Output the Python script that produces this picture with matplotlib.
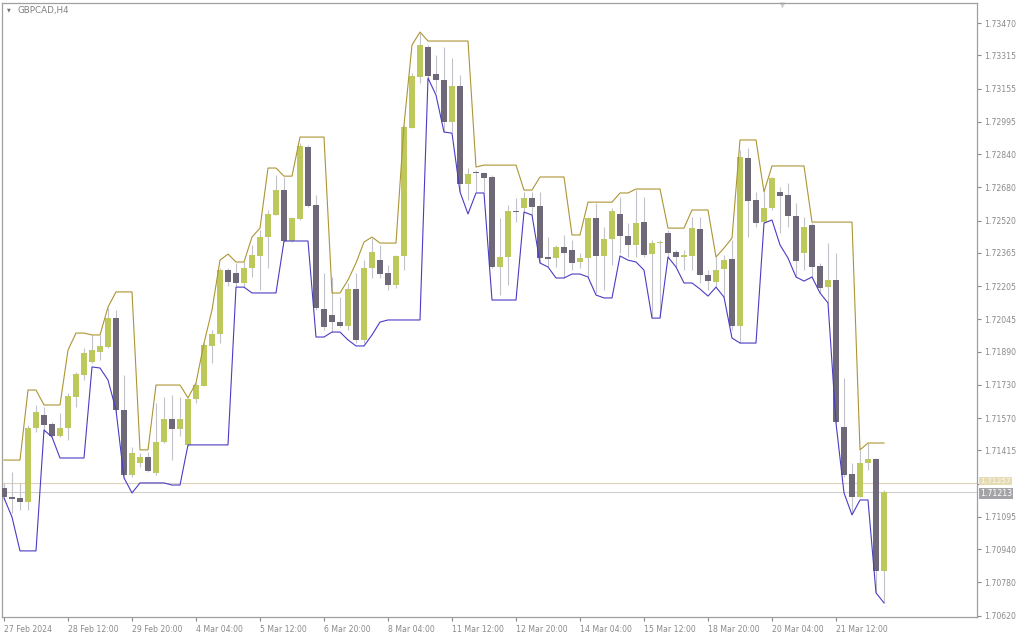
import numpy as np
import matplotlib
matplotlib.use('Agg')
from matplotlib import pyplot as plt
from matplotlib import transforms

# GBPCAD H4 candles
open_ = [1.71234, 1.71190, 1.71186, 1.71166, 1.71522, 1.71585, 1.71542, 1.71484, 1.71522, 1.71671,
         1.71777, 1.71840, 1.71888, 1.71912, 1.72051, 1.71609, 1.71296, 1.71354, 1.71383, 1.71306,
         1.71455, 1.71566, 1.71518, 1.71441, 1.71662, 1.71724, 1.71917, 1.71974, 1.72282, 1.72268,
         1.72220, 1.72292, 1.72350, 1.72441, 1.72547, 1.72667, 1.72422, 1.72528, 1.72874, 1.72595,
         1.72095, 1.72066, 1.72032, 1.72013, 1.72191, 1.71946, 1.72292, 1.72330, 1.72268, 1.72210,
         1.72350, 1.72965, 1.73211, 1.73355, 1.73225, 1.73196, 1.72994, 1.73167, 1.72696, 1.72754,
         1.72749, 1.72730, 1.72297, 1.72345, 1.72566, 1.72581, 1.72629, 1.72590, 1.72345, 1.72340,
         1.72393, 1.72379, 1.72321, 1.72340, 1.72532, 1.72350, 1.72431, 1.72552, 1.72446, 1.72403,
         1.72513, 1.72359, 1.72412, 1.72460, 1.72369, 1.72345, 1.72350, 1.72480, 1.72258, 1.72225,
         1.72287, 1.72335, 1.72013, 1.72821, 1.72619, 1.72513, 1.72581, 1.72658, 1.72643, 1.72542,
         1.72364, 1.72499, 1.72302, 1.72200, 1.72234, 1.71527, 1.71301, 1.71190, 1.71354, 1.71373,
         1.70835]
high = [1.71258, 1.71311, 1.71258, 1.71537, 1.71633, 1.71623, 1.71551, 1.71595, 1.71691, 1.71792,
        1.71907, 1.71970, 1.71970, 1.72100, 1.72090, 1.71777, 1.71431, 1.71402, 1.71407, 1.71643,
        1.71671, 1.71681, 1.71671, 1.71667, 1.71739, 1.71931, 1.71994, 1.72292, 1.72292, 1.72316,
        1.72321, 1.72403, 1.72475, 1.72571, 1.72739, 1.72730, 1.72537, 1.72893, 1.72884, 1.72643,
        1.72268, 1.72249, 1.72152, 1.72220, 1.72268, 1.72330, 1.72436, 1.72403, 1.72306, 1.72354,
        1.72980, 1.73230, 1.73422, 1.73365, 1.73316, 1.73355, 1.73302, 1.73220, 1.72773, 1.72763,
        1.72754, 1.72739, 1.72532, 1.72595, 1.72629, 1.72658, 1.72658, 1.72658, 1.72441, 1.72403,
        1.72451, 1.72427, 1.72364, 1.72537, 1.72605, 1.72489, 1.72581, 1.72633, 1.72508, 1.72667,
        1.72633, 1.72427, 1.72427, 1.72475, 1.72379, 1.72379, 1.72537, 1.72537, 1.72282, 1.72345,
        1.72354, 1.72427, 1.72860, 1.72869, 1.72658, 1.72658, 1.72730, 1.72681, 1.72701, 1.72605,
        1.72537, 1.72508, 1.72316, 1.72412, 1.72364, 1.71763, 1.71354, 1.71417, 1.71450, 1.71378,
        1.71224]
low = [1.71176, 1.71113, 1.71128, 1.71128, 1.71503, 1.71498, 1.71474, 1.71479, 1.71465, 1.71623,
       1.71753, 1.71835, 1.71849, 1.71907, 1.71595, 1.71287, 1.71287, 1.71335, 1.71311, 1.71296,
       1.71450, 1.71368, 1.71484, 1.71436, 1.71643, 1.71724, 1.71835, 1.71931, 1.72205, 1.72200,
       1.72200, 1.72249, 1.72186, 1.72292, 1.72547, 1.72417, 1.72417, 1.72523, 1.72585, 1.72090,
       1.71994, 1.71984, 1.72008, 1.71994, 1.71931, 1.71931, 1.72244, 1.72244, 1.72186, 1.72196,
       1.72282, 1.72965, 1.73182, 1.73206, 1.73139, 1.72946, 1.72946, 1.72658, 1.72619, 1.72658,
       1.72658, 1.72292, 1.72162, 1.72210, 1.72513, 1.72561, 1.72547, 1.72316, 1.72297, 1.72297,
       1.72244, 1.72282, 1.72292, 1.72249, 1.72172, 1.72186, 1.72306, 1.72364, 1.72345, 1.72345,
       1.72345, 1.72056, 1.72056, 1.72345, 1.72297, 1.72282, 1.72282, 1.72220, 1.72186, 1.72200,
       1.72152, 1.71994, 1.71931, 1.72441, 1.72489, 1.72508, 1.72571, 1.72460, 1.72489, 1.72249,
       1.72282, 1.72249, 1.72172, 1.72124, 1.71546, 1.71287, 1.71113, 1.71190, 1.71320, 1.70729,
       1.70681]
close = [1.71190, 1.71181, 1.71166, 1.71522, 1.71599, 1.71537, 1.71484, 1.71522, 1.71676, 1.71782,
         1.71883, 1.71897, 1.71917, 1.72051, 1.71609, 1.71296, 1.71402, 1.71383, 1.71315, 1.71455,
         1.71566, 1.71518, 1.71566, 1.71662, 1.71729, 1.71921, 1.71974, 1.72282, 1.72225, 1.72220,
         1.72292, 1.72354, 1.72441, 1.72552, 1.72667, 1.72422, 1.72532, 1.72879, 1.72590, 1.72100,
         1.72008, 1.72032, 1.72013, 1.72191, 1.71946, 1.72292, 1.72369, 1.72263, 1.72210, 1.72350,
         1.72970, 1.73215, 1.73365, 1.73215, 1.73196, 1.72994, 1.73167, 1.72696, 1.72744, 1.72749,
         1.72725, 1.72297, 1.72345, 1.72566, 1.72561, 1.72629, 1.72585, 1.72340, 1.72335, 1.72393,
         1.72364, 1.72316, 1.72340, 1.72532, 1.72350, 1.72431, 1.72566, 1.72446, 1.72403, 1.72508,
         1.72354, 1.72412, 1.72417, 1.72364, 1.72345, 1.72354, 1.72484, 1.72258, 1.72229, 1.72282,
         1.72330, 1.72013, 1.72826, 1.72614, 1.72508, 1.72581, 1.72725, 1.72638, 1.72542, 1.72326,
         1.72489, 1.72297, 1.72196, 1.72234, 1.71551, 1.71296, 1.71190, 1.71354, 1.71373, 1.70835,
         1.71213]

# channel indicator (upper / lower band)
upper = [1.71368, 1.71368, 1.71368, 1.71705, 1.71705, 1.71633, 1.71633, 1.71633, 1.71897, 1.71979,
         1.71979, 1.71970, 1.71970, 1.72104, 1.72177, 1.72177, 1.72177, 1.71417, 1.71417, 1.71729,
         1.71729, 1.71729, 1.71729, 1.71667, 1.71739, 1.71931, 1.72090, 1.72330, 1.72359, 1.72321,
         1.72321, 1.72441, 1.72484, 1.72773, 1.72773, 1.72734, 1.72734, 1.72922, 1.72922, 1.72922,
         1.72922, 1.72172, 1.72172, 1.72234, 1.72316, 1.72417, 1.72441, 1.72412, 1.72412, 1.72412,
         1.72980, 1.73365, 1.73427, 1.73384, 1.73384, 1.73384, 1.73384, 1.73384, 1.73384, 1.72778,
         1.72787, 1.72787, 1.72787, 1.72787, 1.72787, 1.72667, 1.72667, 1.72730, 1.72730, 1.72730,
         1.72730, 1.72451, 1.72451, 1.72609, 1.72609, 1.72609, 1.72609, 1.72653, 1.72653, 1.72672,
         1.72672, 1.72672, 1.72672, 1.72484, 1.72484, 1.72484, 1.72571, 1.72571, 1.72571, 1.72345,
         1.72388, 1.72436, 1.72908, 1.72908, 1.72908, 1.72658, 1.72783, 1.72783, 1.72783, 1.72783,
         1.72783, 1.72513, 1.72513, 1.72513, 1.72513, 1.72513, 1.72513, 1.71417, 1.71450, 1.71450,
         1.71450]
lower = [1.71186, 1.71094, 1.70931, 1.70931, 1.70931, 1.71513, 1.71479, 1.71378, 1.71378, 1.71378,
         1.71378, 1.71816, 1.71811, 1.71753, 1.71609, 1.71282, 1.71210, 1.71258, 1.71258, 1.71258,
         1.71258, 1.71248, 1.71248, 1.71441, 1.71441, 1.71441, 1.71441, 1.71441, 1.71441, 1.72200,
         1.72200, 1.72172, 1.72172, 1.72172, 1.72172, 1.72422, 1.72422, 1.72422, 1.72422, 1.71960,
         1.71960, 1.71984, 1.71984, 1.71946, 1.71917, 1.71917, 1.71970, 1.72032, 1.72042, 1.72042,
         1.72042, 1.72042, 1.72042, 1.73206, 1.73124, 1.72946, 1.72941, 1.72658, 1.72552, 1.72653,
         1.72653, 1.72138, 1.72138, 1.72138, 1.72138, 1.72561, 1.72547, 1.72316, 1.72297, 1.72244,
         1.72244, 1.72263, 1.72263, 1.72249, 1.72162, 1.72148, 1.72148, 1.72350, 1.72330, 1.72321,
         1.72282, 1.72051, 1.72051, 1.72345, 1.72297, 1.72220, 1.72220, 1.72191, 1.72157, 1.72200,
         1.72152, 1.71955, 1.71931, 1.71931, 1.71931, 1.72508, 1.72523, 1.72403, 1.72340, 1.72249,
         1.72229, 1.72249, 1.72172, 1.72124, 1.71546, 1.71210, 1.71104, 1.71176, 1.71176, 1.70729,
         1.70681]

date_labels = ['27 Feb 2024', '28 Feb 12:00', '29 Feb 20:00', '4 Mar 04:00', '5 Mar 12:00',
               '6 Mar 20:00', '8 Mar 04:00', '11 Mar 12:00', '12 Mar 20:00', '14 Mar 04:00',
               '15 Mar 12:00', '18 Mar 20:00', '20 Mar 04:00', '21 Mar 12:00']
price_ticks = [1.73470, 1.73315, 1.73155, 1.72995, 1.72840, 1.72680, 1.72520, 1.72365, 1.72205,
               1.72045, 1.71890, 1.71730, 1.71570, 1.71415, 1.71255, 1.71095, 1.70940, 1.70780,
               1.70620]
ask_price = 1.71257
bid_price = 1.71213

grey = '#8a8a8a'

fig = plt.figure(figsize=(10.24, 6.4), dpi=100)
ax = fig.add_axes([2/1024, 23/640, 975/1024, 614/640])

o = np.array(open_)
c = np.array(close)
x = np.arange(len(o))
bull = c >= o
bot = np.minimum(o, c)
h = np.maximum(np.abs(c - o), 0.00005)

ax.vlines(x, low, high, color='#c2c2ca', lw=0.8, zorder=1)
ax.bar(x[bull], h[bull], bottom=bot[bull], width=0.72, color='#bdc95b', lw=0, zorder=3)
ax.bar(x[~bull], h[~bull], bottom=bot[~bull], width=0.72, color='#6e6878', lw=0, zorder=3)

ax.plot(x, upper, color='#ad9534', lw=0.8, zorder=4)
ax.plot(x, lower, color='#4a3cc6', lw=0.8, zorder=4)

ax.axhline(ask_price, color='#ddd3b8', lw=0.8, zorder=0)
ax.axhline(bid_price, color='#cfcfcf', lw=0.8, zorder=0)

ax.set_xlim(-0.25, 121.625)
ax.set_ylim(1.70613, 1.73567)

ax.yaxis.tick_right()
ax.set_yticks(price_ticks)
ax.set_yticklabels(['%.5f' % p if p != 1.71255 else '' for p in price_ticks])
ax.set_xticks(np.arange(0, 8 * len(date_labels), 8))
ax.set_xticklabels(date_labels, ha='left')
ax.tick_params(axis='both', length=3, width=0.8, color=grey, labelcolor=grey,
               labelsize=5.6, pad=2)
ax.tick_params(axis='x', pad=3)

for s in ax.spines.values():
    s.set_color('#a0a0a0')
    s.set_linewidth(0.9)

# price labels on the right scale
tr = transforms.blended_transform_factory(ax.transAxes, ax.transData)
ax.annotate('%.5f' % ask_price, xy=(1.003, ask_price), xycoords=tr, xytext=(0, 1.5),
            textcoords='offset points', va='center', ha='left', fontsize=5.3, color='#fbf8ee',
            annotation_clip=False, zorder=10,
            bbox=dict(boxstyle='square,pad=0.12', fc='#e6dcb4', ec='none'))
ax.annotate('%.5f' % bid_price, xy=(1.003, bid_price), xycoords=tr, xytext=(0, -1),
            textcoords='offset points', va='center', ha='left', fontsize=5.6, color='white',
            annotation_clip=False, zorder=11,
            bbox=dict(boxstyle='square,pad=0.15', fc='#a4a4a8', ec='none'))

# chart title and shift marker
fig.text(7/1024, 1 - 10/640, '\u25bc', fontsize=3.5, color='#707070', va='center')
fig.text(18/1024, 1 - 10/640, 'GBPCAD,H4', fontsize=6.3, color='#808080', va='center')
ax.plot([0.8], [0.997], marker='v', ms=5, color='#cfcfcf', mec='none',
        transform=ax.transAxes, clip_on=False)

fig.savefig('out.png', dpi=100, facecolor='white')
